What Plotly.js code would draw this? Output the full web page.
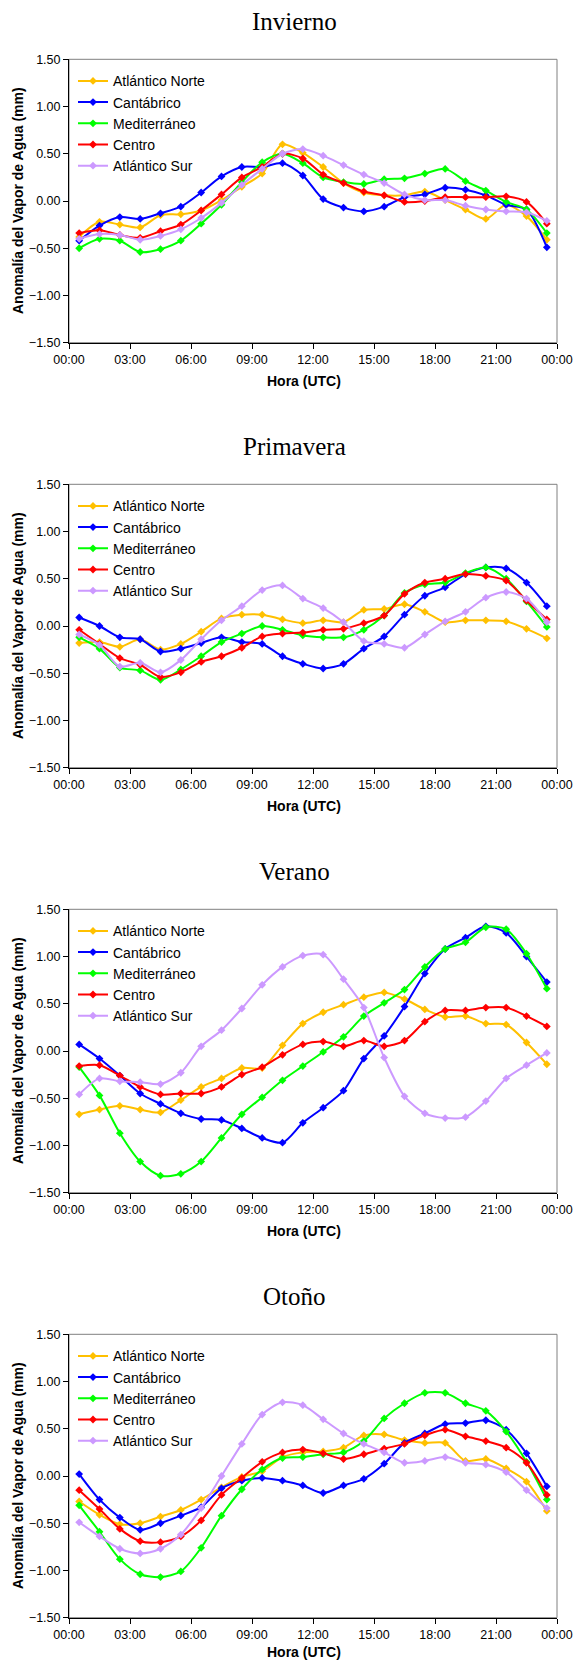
<!DOCTYPE html>
<html>
<head>
<meta charset="utf-8">
<script src="https://cdn.plot.ly/plotly-3.0.1.min.js"></script>
<style>html,body{margin:0;padding:0;background:#fff;}#chart{width:574px;height:1663px;}</style>
</head>
<body>
<div id="chart"></div>
<script>
// ---------- DATA ----------
const horas = [0.5,1.5,2.5,3.5,4.5,5.5,6.5,7.5,8.5,9.5,10.5,11.5,12.5,13.5,14.5,15.5,16.5,17.5,18.5,19.5,20.5,21.5,22.5,23.5];
const tickHoras = [0,3,6,9,12,15,18,21,24];
const tickTexto = ["00:00","03:00","06:00","09:00","12:00","15:00","18:00","21:00","00:00"];
const estaciones = ["Invierno","Primavera","Verano","Otoño"];
const regiones = ["Atlántico Norte","Cantábrico","Mediterráneo","Centro","Atlántico Sur"];
const colores = ["#FFC000","#0000FF","#00FF00","#FF0000","#CC99FF"];

// Invierno
const inviernoAtlNorte = [-0.38,-0.22,-0.25,-0.28,-0.15,-0.14,-0.10,0.01,0.15,0.29,0.60,0.51,0.36,0.19,0.09,0.06,0.06,0.10,0.01,-0.09,-0.19,-0.04,-0.16,-0.41];
const inviernoCantabrico = [-0.42,-0.26,-0.17,-0.19,-0.13,-0.06,0.09,0.26,0.36,0.36,0.40,0.27,0.02,-0.07,-0.11,-0.06,0.04,0.07,0.14,0.12,0.06,-0.04,-0.09,-0.49];
const inviernoMediterraneo = [-0.50,-0.40,-0.42,-0.54,-0.51,-0.42,-0.24,-0.04,0.20,0.41,0.50,0.40,0.25,0.20,0.18,0.23,0.24,0.29,0.34,0.21,0.11,-0.01,-0.09,-0.34];
const inviernoCentro = [-0.34,-0.31,-0.36,-0.39,-0.32,-0.25,-0.10,0.07,0.25,0.36,0.50,0.45,0.28,0.19,0.10,0.06,-0.01,0.00,0.04,0.04,0.04,0.05,-0.01,-0.24];
const inviernoAtlSur = [-0.40,-0.35,-0.36,-0.41,-0.37,-0.30,-0.18,-0.02,0.17,0.34,0.50,0.55,0.48,0.38,0.28,0.19,0.07,0.01,0.01,-0.05,-0.09,-0.11,-0.12,-0.21];

// Primavera
const primaveraAtlNorte = [-0.18,-0.17,-0.22,-0.14,-0.25,-0.19,-0.06,0.08,0.12,0.12,0.07,0.03,0.06,0.04,0.17,0.18,0.23,0.15,0.04,0.06,0.06,0.05,-0.03,-0.13];
const primaveraCantabrico = [0.09,0.00,-0.12,-0.14,-0.27,-0.24,-0.18,-0.12,-0.17,-0.19,-0.32,-0.40,-0.45,-0.40,-0.24,-0.11,0.12,0.32,0.41,0.55,0.62,0.61,0.46,0.21];
const primaveraMediterraneo = [-0.12,-0.24,-0.44,-0.47,-0.57,-0.46,-0.32,-0.17,-0.08,0.00,-0.04,-0.10,-0.12,-0.12,-0.04,0.11,0.35,0.44,0.46,0.56,0.62,0.50,0.26,-0.01];
const primaveraCentro = [-0.04,-0.19,-0.34,-0.41,-0.54,-0.49,-0.38,-0.32,-0.23,-0.11,-0.08,-0.07,-0.04,-0.03,0.03,0.11,0.34,0.46,0.50,0.55,0.53,0.48,0.27,0.07];
const primaveraAtlSur = [-0.09,-0.20,-0.43,-0.39,-0.49,-0.36,-0.14,0.06,0.21,0.38,0.43,0.29,0.19,0.04,-0.16,-0.19,-0.23,-0.09,0.05,0.15,0.30,0.36,0.29,0.04];

// Verano
const veranoAtlNorte = [-0.67,-0.62,-0.58,-0.62,-0.65,-0.52,-0.38,-0.29,-0.18,-0.18,0.06,0.29,0.41,0.49,0.57,0.62,0.55,0.44,0.36,0.37,0.29,0.28,0.09,-0.14];
const veranoCantabrico = [0.07,-0.08,-0.26,-0.45,-0.56,-0.66,-0.72,-0.73,-0.82,-0.92,-0.97,-0.76,-0.60,-0.42,-0.08,0.16,0.47,0.82,1.08,1.20,1.32,1.25,1.00,0.73];
const veranoMediterraneo = [-0.17,-0.47,-0.87,-1.17,-1.32,-1.30,-1.17,-0.92,-0.67,-0.49,-0.31,-0.16,-0.01,0.15,0.37,0.51,0.65,0.89,1.08,1.15,1.31,1.29,1.03,0.66];
const veranoCentro = [-0.16,-0.15,-0.26,-0.38,-0.46,-0.45,-0.45,-0.38,-0.25,-0.17,-0.04,0.07,0.10,0.05,0.11,0.05,0.11,0.31,0.43,0.43,0.46,0.46,0.37,0.26];
const veranoAtlSur = [-0.46,-0.29,-0.32,-0.33,-0.35,-0.23,0.05,0.22,0.45,0.70,0.89,1.01,1.02,0.76,0.46,-0.07,-0.48,-0.66,-0.71,-0.70,-0.53,-0.29,-0.15,-0.02];

// Otoño
const otonoAtlNorte = [-0.27,-0.41,-0.51,-0.50,-0.43,-0.36,-0.25,-0.12,-0.01,0.05,0.20,0.25,0.26,0.30,0.43,0.44,0.38,0.35,0.35,0.16,0.18,0.08,-0.06,-0.37];
const otonoCantabrico = [0.02,-0.25,-0.44,-0.57,-0.50,-0.42,-0.33,-0.13,-0.05,-0.02,-0.05,-0.10,-0.18,-0.10,-0.03,0.13,0.35,0.45,0.55,0.56,0.59,0.49,0.24,-0.11];
const otonoMediterraneo = [-0.31,-0.59,-0.88,-1.04,-1.07,-1.01,-0.76,-0.42,-0.14,0.07,0.19,0.20,0.23,0.25,0.37,0.61,0.77,0.88,0.88,0.77,0.69,0.47,0.15,-0.25];
const otonoCentro = [-0.15,-0.35,-0.56,-0.69,-0.70,-0.64,-0.47,-0.20,-0.02,0.15,0.25,0.28,0.24,0.18,0.23,0.29,0.34,0.43,0.49,0.42,0.37,0.30,0.14,-0.20];
const otonoAtlSur = [-0.49,-0.64,-0.77,-0.82,-0.77,-0.62,-0.34,0.00,0.34,0.65,0.78,0.75,0.60,0.45,0.34,0.25,0.14,0.16,0.20,0.14,0.12,0.04,-0.15,-0.34];

const series = [
  [inviernoAtlNorte, inviernoCantabrico, inviernoMediterraneo, inviernoCentro, inviernoAtlSur],
  [primaveraAtlNorte, primaveraCantabrico, primaveraMediterraneo, primaveraCentro, primaveraAtlSur],
  [veranoAtlNorte, veranoCantabrico, veranoMediterraneo, veranoCentro, veranoAtlSur],
  [otonoAtlNorte, otonoCantabrico, otonoMediterraneo, otonoCentro, otonoAtlSur]
];

// ---------- LAYOUT ----------
const W = 574, H = 1663;
const M = {l: 69, r: 17, t: 59, b: 45};
const pw = W - M.l - M.r, ph = H - M.t - M.b;
const py = p => (H - M.b - p) / ph;
const px = p => (p - M.l) / pw;
const step = 425, top0 = 59.3, bot0 = 342.7;

const SANS = "Liberation Sans, Arial, sans-serif";
const SERIF = "Liberation Serif, Times New Roman, serif";

const traces = [];
const layout = {
  width: W, height: H, margin: M,
  paper_bgcolor: "#fff", plot_bgcolor: "#fff",
  showlegend: true,
  annotations: [], shapes: [],
  font: {family: SANS, color: "#000"}
};

for (let k = 0; k < 4; k++) {
  const sfx = k === 0 ? "" : String(k + 1);
  const xa = "x" + sfx, ya = "y" + sfx;
  const lg = "legend" + sfx;
  const top = top0 + step * k, bot = bot0 + step * k;

  for (let s = 0; s < 5; s++) {
    traces.push({
      type: "scatter", mode: "lines+markers",
      x: horas, y: series[k][s], name: regiones[s],
      xaxis: xa, yaxis: ya, legend: lg,
      line: {color: colores[s], width: 2, shape: "spline", smoothing: 0.8},
      marker: {symbol: "diamond", size: 6, color: colores[s]},
      hoverinfo: "skip"
    });
  }

  layout["xaxis" + sfx] = {
    domain: [0, 1], anchor: ya, range: [0, 24],
    tickvals: tickHoras, ticktext: tickTexto,
    ticks: "outside", ticklen: 5, tickcolor: "#000",
    showline: true, linecolor: "#000", linewidth: 1,
    showgrid: false, zeroline: false,
    tickfont: {family: SANS, size: 12.5, color: "#000"}
  };
  layout["yaxis" + sfx] = {
    domain: [py(bot), Math.min(1, py(top))], anchor: xa, range: [-1.5, 1.5],
    tickvals: [-1.5,-1,-0.5,0,0.5,1,1.5], tickformat: ".2f",
    ticks: "outside", ticklen: 5, tickcolor: "#000",
    showline: true, linecolor: "#000", linewidth: 1,
    showgrid: false, zeroline: false,
    tickfont: {family: SANS, size: 12.5, color: "#000"}
  };
  layout[lg] = {
    x: px(73), y: py(top + 6), xanchor: "left", yanchor: "top",
    bgcolor: "rgba(0,0,0,0)", borderwidth: 0,
    font: {family: SANS, size: 14, color: "#000"},
    itemwidth: 30, traceorder: "normal"
  };
  layout.shapes.push({
    type: "rect", xref: xa + " domain", yref: ya + " domain",
    x0: 0, x1: 1, y0: 0, y1: 1,
    line: {color: "#808080", width: 1}, layer: "below"
  });
  layout.annotations.push({
    text: estaciones[k], xref: "paper", yref: "paper",
    x: px(294), y: py(top - 38), xanchor: "center", yanchor: "middle",
    showarrow: false, font: {family: SERIF, size: 25, color: "#000"}
  });
  layout.annotations.push({
    text: "<b>Hora (UTC)</b>", xref: "paper", yref: "paper",
    x: px(304), y: py(Math.min(bot + 38, 1652)), xanchor: "center", yanchor: "middle",
    showarrow: false, font: {family: SANS, size: 14, color: "#000"}
  });
  layout.annotations.push({
    text: "<b>Anomalía del Vapor de Agua (mm)</b>", xref: "paper", yref: "paper",
    x: px(18), y: py((top + bot) / 2), xanchor: "center", yanchor: "middle",
    textangle: -90, showarrow: false, font: {family: SANS, size: 14, color: "#000"}
  });
}

Plotly.newPlot("chart", traces, layout, {displayModeBar: false, staticPlot: true});
</script>
</body>
</html>
